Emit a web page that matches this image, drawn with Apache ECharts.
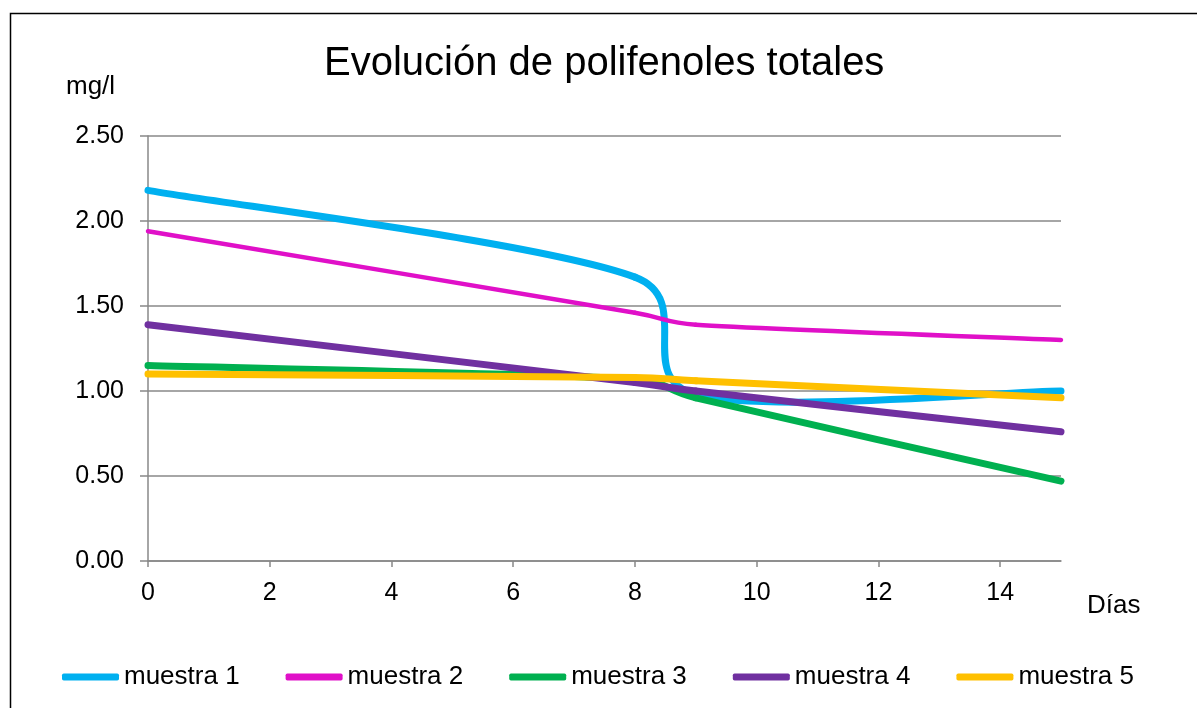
<!DOCTYPE html>
<html>
<head>
<meta charset="utf-8">
<script src="https://cdn.jsdelivr.net/npm/echarts@6/dist/echarts.min.js"></script>
<style>
  html, body { margin: 0; padding: 0; background: #fff; }
  #box { width: 1197px; height: 708px; }
</style>
</head>
<body>
<div id="box"></div>
<script>
// dias de medida
var dias = [0, 8, 9, 15];
var muestra1 = [2.18, 1.67, 0.98, 1.00];
var muestra2 = [1.94, 1.46, 1.39, 1.30];
var muestra3 = [1.15, 1.07, 0.96, 0.47];
var muestra4 = [1.39, 1.05, 1.00, 0.76];
var muestra5 = [1.10, 1.08, 1.06, 0.96];
var nombres = ['muestra 1', 'muestra 2', 'muestra 3', 'muestra 4', 'muestra 5'];
var colores = ['#00B0F0', '#E010C8', '#00B050', '#7030A0', '#FFC000'];
var grosor = [7, 4.5, 7, 7, 7];
var valores = [muestra1, muestra2, muestra3, muestra4, muestra5];

var font = '"Liberation Sans", Arial, sans-serif';

// vector de control estilo excel: (siguiente - anterior)/6, sin pasar de medio tramo
function ctrl(a, b, lenTramo) {
  var vx = (b[0] - a[0]) / 6, vy = (b[1] - a[1]) / 6;
  var l = Math.sqrt(vx * vx + vy * vy);
  if (l > lenTramo / 2 && l > 0) {
    vx = vx * lenTramo / 2 / l;
    vy = vy * lenTramo / 2 / l;
  }
  return [vx, vy];
}

function serie(k) {
  var vals = valores[k];
  var data = dias.map(function (d, i) { return [d, vals[i]]; });
  return {
    name: nombres[k],
    type: 'custom',
    coordinateSystem: 'cartesian2d',
    itemStyle: { color: colores[k] },
    encode: { x: 0, y: 1 },
    data: data,
    renderItem: function (params, api) {
      var i = params.dataIndex;
      var n = data.length;
      if (i >= n - 1) return null;
      var p = data.map(function (d) { return api.coord(d); });
      var p0 = i > 0 ? p[i - 1] : p[i];
      var p1 = p[i], p2 = p[i + 1];
      var p3 = i + 2 < n ? p[i + 2] : p[i + 1];
      var len = Math.sqrt((p2[0] - p1[0]) * (p2[0] - p1[0]) + (p2[1] - p1[1]) * (p2[1] - p1[1]));
      var c1 = ctrl(p0, p2, len);
      var c2 = ctrl(p1, p3, len);
      return {
        type: 'bezierCurve',
        shape: {
          x1: p1[0], y1: p1[1],
          cpx1: p1[0] + c1[0], cpy1: p1[1] + c1[1],
          cpx2: p2[0] - c2[0], cpy2: p2[1] - c2[1],
          x2: p2[0], y2: p2[1]
        },
        style: { stroke: colores[k], lineWidth: grosor[k], fill: null, lineCap: 'round' }
      };
    }
  };
}

var myChart = echarts.init(document.getElementById('box'));
var option = {
  animation: false,
  backgroundColor: '#fff',
  title: {
    text: 'Evolución de polifenoles totales',
    left: 324, top: 44, padding: 0,
    textStyle: { fontFamily: font, fontWeight: 'normal', fontSize: 40, color: '#000' }
  },
  legend: {
    left: 62, top: 664, padding: 0,
    itemWidth: 57, itemHeight: 7, itemGap: 46,
    icon: 'roundRect',
    data: nombres,
    textStyle: { fontFamily: font, fontSize: 26, color: '#000' }
  },
  grid: { left: 148, right: 136, top: 136, bottom: 147 },
  xAxis: {
    type: 'value', min: 0, max: 15, interval: 2,
    axisLine: { lineStyle: { color: '#888', width: 1.5 } },
    axisTick: { show: true, length: 6, lineStyle: { color: '#888', width: 1.5 } },
    splitLine: { show: false },
    axisLabel: { showMaxLabel: false, margin: 20, color: '#000', fontFamily: font, fontSize: 25 }
  },
  yAxis: {
    type: 'value', min: 0, max: 2.5, interval: 0.5,
    axisLine: { show: true, lineStyle: { color: '#888', width: 1.5 } },
    axisTick: { show: true, length: 8, lineStyle: { color: '#888', width: 1.5 } },
    splitLine: { lineStyle: { color: '#888', width: 1.5 } },
    axisLabel: {
      margin: 24, color: '#000', fontFamily: font, fontSize: 25,
      formatter: function (v) { return v.toFixed(2); }
    }
  },
  graphic: [
    { type: 'rect', left: 8, top: 11, shape: { width: 1200, height: 720 },
      style: { fill: null, stroke: '#000', lineWidth: 1.5 }, silent: true },
    { type: 'text', left: 66, top: 74,
      style: { text: 'mg/l', font: '26px ' + font, fill: '#000' } },
    { type: 'text', left: 1087, top: 593,
      style: { text: 'Días', font: '26px ' + font, fill: '#000' } }
  ],
  series: [0, 1, 2, 3, 4].map(serie)
};
myChart.setOption(option);
</script>
</body>
</html>
